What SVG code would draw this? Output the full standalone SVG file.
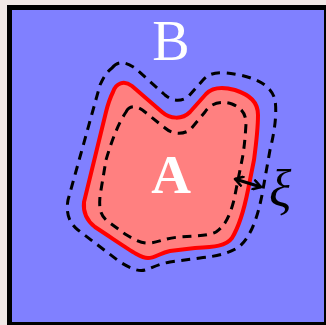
<svg xmlns="http://www.w3.org/2000/svg" width="326" height="325" viewBox="0 0 326 325">
<style>
.dash{fill:none;stroke:#000;stroke-width:3;stroke-dasharray:9 6.5;stroke-linejoin:round}
.lbl{font-family:"Liberation Serif","DejaVu Serif",serif;fill:#fff;text-anchor:middle}
</style>
<defs>
<marker id="ah" viewBox="0 0 10 10" refX="8" refY="5" markerWidth="3.6" markerHeight="3.6" orient="auto-start-reverse" markerUnits="strokeWidth">
<path d="M1.5,1 L8,5 L1.5,9" fill="none" stroke="#000" stroke-width="2.2" stroke-linecap="round" stroke-linejoin="round"/>
</marker>
</defs>
<rect width="326" height="325" fill="#f1e8e6"/>
<rect x="7" y="5" width="319" height="320" fill="#000"/>
<rect x="12" y="10" width="312" height="312" fill="#8080ff"/>
<g id="B">
<text class="lbl" x="171" y="60" font-size="56">B</text>
</g>
<g id="outer">
<path class="dash" d="M112,68 C118,60 126,62 135,68 L165,95 C172,101 180,102 188,97 L203,80 C210,72 220,71 240,75 C262,80 272,88 275,100 C277,112 275,130 270,150 L262,195 C258,215 252,235 240,246 C232,252 220,256 200,258 L170,262 C158,264 152,268 145,270 C138,272 130,268 120,262 L78,230 C68,222 66,212 68,200 L100,85 C104,76 107,72 112,68 Z"/>
</g>
<g id="A">
<path d="M113,92 C116,83 124,80 132,86 L162,112 C170,119 182,120 190,112 L206,94 C212,88 220,86 235,90 C250,95 258,102 258,115 C258,130 256,145 254,160 L248,190 C244,210 240,225 232,238 C226,246 215,247 195,248 L170,251 C160,253 155,258 148,258 C140,258 130,250 95,227 C86,220 83,212 84,202 L106,112 C108,104 110,98 113,92 Z" fill="#ff8080" stroke="#ff0000" stroke-width="4"/>
<text class="lbl" x="171" y="193" font-size="55" font-weight="bold">A</text>
</g>
<g id="inner">
<path class="dash" d="M126,112 C130,104 138,106 145,112 L165,128 C172,134 182,135 190,130 L205,112 C210,104 220,100 232,104 C242,108 246,114 246,124 C245,140 244,150 242,160 L234,200 C230,215 226,225 216,232 C208,236 195,236 180,237 C165,238 160,242 150,243 C142,244 135,240 125,234 L106,220 C100,214 99,208 100,196 L106,160 C112,140 118,124 126,112 Z"/>
</g>
<g id="connectors">
<line x1="235" y1="179" x2="261" y2="187" stroke="#000" stroke-width="3.2" marker-start="url(#ah)" marker-end="url(#ah)"/>
</g>
<g id="xi">
<text x="269" y="206" font-family="'Liberation Serif','DejaVu Serif',serif" font-style="italic" font-size="52" fill="#000">ξ</text>
</g>
</svg>
